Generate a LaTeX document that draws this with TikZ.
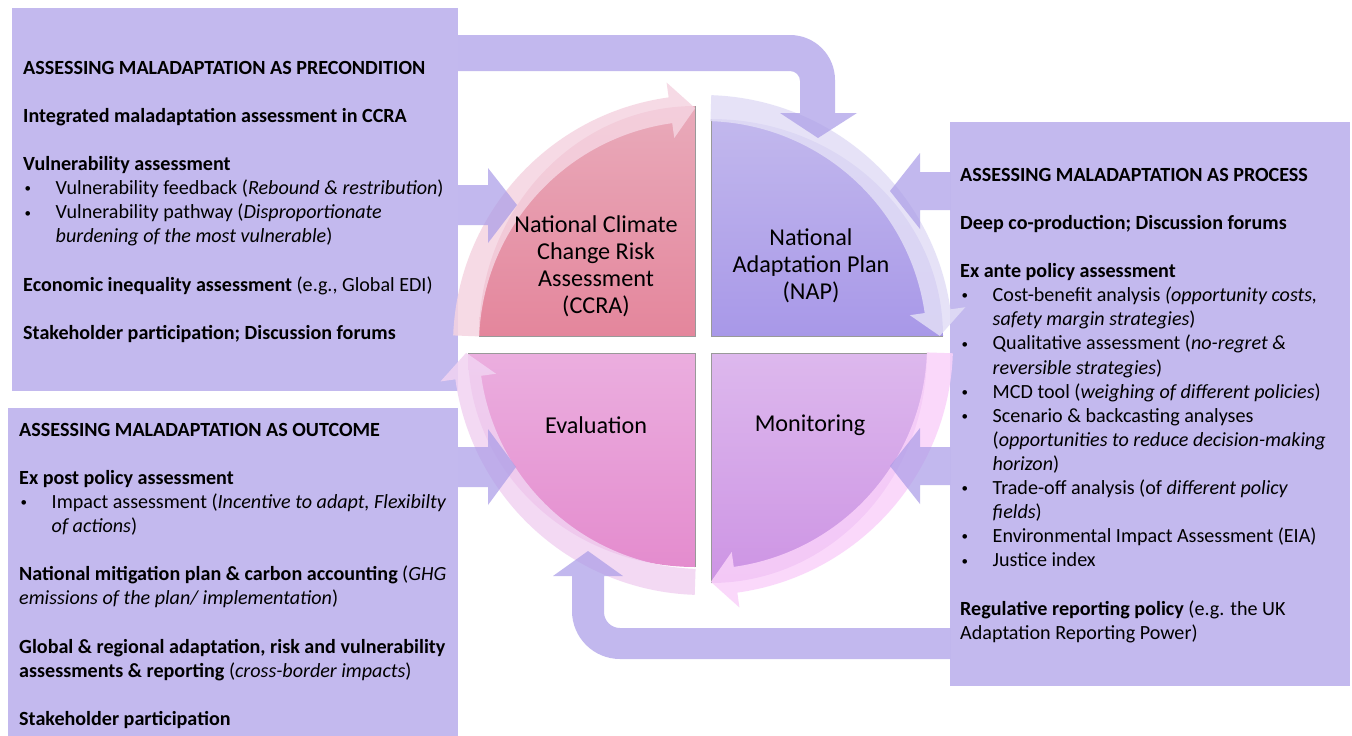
\documentclass[tikz,border=0pt]{standalone}
\usepackage{fontspec}
\setmainfont{Carlito}
\usetikzlibrary{calc}

\definecolor{boxlav}{RGB}{195,185,238}
\definecolor{arrlav}{RGB}{169,155,231}
\definecolor{ccraTop}{RGB}{233,170,186}
\definecolor{ccraBot}{RGB}{228,134,156}
\definecolor{napTop}{RGB}{194,184,237}
\definecolor{napBot}{RGB}{168,152,232}
\definecolor{evalTop}{RGB}{235,174,223}
\definecolor{evalBot}{RGB}{228,140,206}
\definecolor{monTop}{RGB}{221,184,237}
\definecolor{monBot}{RGB}{205,148,228}
\definecolor{cycA}{RGB}{245,212,225}
\definecolor{cycB}{RGB}{226,222,246}
\definecolor{cycC}{RGB}{250,210,250}
\definecolor{cycD}{RGB}{241,211,242}

% geometry of the ring of cycle arrows
\newcommand\rIn{224}
\newcommand\rOut{250}
\newcommand\rMid{237}
\newcommand\rHin{209}
\newcommand\rHout{265}
\newcommand\headAng{6}

% clockwise ring arrow: colour, tail angle, tip angle
\newcommand\cyclearrow[3]{%
  \fill[#1, opacity=.85]
    ($(C)+(#2:\rOut)$) arc[start angle=#2, end angle=#3+\headAng, radius=\rOut]
    -- ($(C)+(#3+\headAng:\rHout)$) -- ($(C)+(#3:\rMid)$)
    -- ($(C)+(#3+\headAng:\rHin)$) -- ($(C)+(#3+\headAng:\rIn)$)
    arc[start angle=#3+\headAng, end angle=#2, radius=\rIn] -- cycle;}

\newcommand\bul{\makebox[32.5pt][l]{\hspace{1.5pt}\raisebox{1.8pt}{\fontsize{13}{13}\selectfont\textbullet}}}
\newcommand\ind{\hspace*{32.5pt}}

\tikzset{
  panel/.style={fill=boxlav, draw=none, inner sep=0pt, anchor=north west},
  paneltext/.style={font=\fontsize{20.1}{24.1}\selectfont, align=left, inner sep=0pt, anchor=north west},
  quadlabel/.style={font=\fontsize{24.2}{27}\selectfont, align=center, inner sep=0pt},
  edge/.style={draw=black!40, line width=0.5pt},
  blockarrow/.style={fill=arrlav, opacity=.7}
}

\begin{document}
\begin{tikzpicture}[x=1pt,y=1pt]
\useasboundingbox (0,0) rectangle (1352,-736);
\fill[white] (0,0) rectangle (1352,-736);

% text panels
\node[panel, minimum width=446pt, minimum height=383pt] (pre) at (12,-8) {};
\node[panel, minimum width=450pt, minimum height=328pt] (out) at (8,-408) {};
\node[panel, minimum width=400pt, minimum height=564pt] (proc) at (950,-122) {};

% quadrants
\coordinate (C) at (703,-345);
\shade[top color=ccraTop, bottom color=ccraBot]
  (695,-336) -- (479,-336) arc[start angle=180, end angle=90, x radius=216, y radius=230] -- cycle;
\shade[top color=napTop, bottom color=napBot]
  (711,-336) -- (711,-119) arc[start angle=90, end angle=0, x radius=232, y radius=217] -- cycle;
\shade[top color=evalTop, bottom color=evalBot]
  (695,-353) -- (468,-353) arc[start angle=180, end angle=270, x radius=227, y radius=214] -- cycle;
\shade[top color=monTop, bottom color=monBot]
  (711,-353) -- (927,-353) arc[start angle=0, end angle=-90, x radius=216, y radius=230] -- cycle;
\draw[edge] (479,-336) -- (695,-336) -- (695,-106);
\draw[edge] (711,-119) -- (711,-336) -- (943,-336);
\draw[edge] (468,-353) -- (695,-353) -- (695,-567);
\draw[edge] (927,-353) -- (711,-353) -- (711,-583);

% ring of cycle arrows
\cyclearrow{cycA}{177.8}{91.9}
\cyclearrow{cycB}{88.1}{2.2}
\cyclearrow{cycC}{-1.9}{-88.1}
\cyclearrow{cycD}{-91.9}{-178.1}

% arrows from the panels into the quadrants
\fill[blockarrow] (458,-185) -- (488,-185) -- (488,-168) -- (517,-205) -- (488,-243) -- (488,-225) -- (458,-225) -- cycle;
\fill[blockarrow] (458,-447) -- (488,-447) -- (488,-429) -- (516,-467) -- (488,-505) -- (488,-487) -- (458,-487) -- cycle;
\fill[blockarrow] (950,-172) -- (920,-172) -- (920,-153) -- (890,-191) -- (920,-229) -- (920,-210) -- (950,-210) -- cycle;
\fill[blockarrow] (950,-447) -- (920,-447) -- (920,-428) -- (890,-466) -- (920,-504) -- (920,-485) -- (950,-485) -- cycle;

% feedback loops
\fill[blockarrow] (458,-35) -- (790,-35) arc[start angle=90, end angle=0, radius=45]
  -- (835,-113) -- (857,-113) -- (818,-138) -- (780,-113) -- (800,-113) -- (800,-81)
  arc[start angle=0, end angle=90, radius=10] -- (458,-71) -- cycle;
\fill[blockarrow] (950,-628) -- (620,-628) arc[start angle=270, end angle=180, radius=16]
  -- (604,-576) -- (623,-576) -- (588,-551) -- (553,-576) -- (572,-576) -- (572,-611)
  arc[start angle=180, end angle=270, radius=48] -- (950,-659) -- cycle;

% quadrant labels
\node[quadlabel] (ccra) at (596,-266) {National Climate\\Change Risk\\Assessment\\(CCRA)};
\node[quadlabel] (nap) at (811,-266) {National\\Adaptation Plan\\(NAP)};
\node[quadlabel] (eval) at (596,-425) {Evaluation};
\node[quadlabel] (mon) at (810,-425) {Monitoring};

% panel texts
\node[paneltext] (pretext) at (23,-57.2) {\strut\textbf{ASSESSING MALADAPTATION AS PRECONDITION}\\[24.1pt]
\textbf{Integrated maladaptation assessment in CCRA}\\[24.1pt]
\textbf{Vulnerability assessment}\\
\bul Vulnerability feedback (\textit{Rebound \& restribution})\\
\bul Vulnerability pathway (\textit{Disproportionate}\\
\ind\textit{burdening of the most vulnerable})\\[24.1pt]
\textbf{Economic inequality assessment} (e.g., Global EDI)\\[24.1pt]
\textbf{Stakeholder participation; Discussion forums}};

\node[paneltext] (outtext) at (19,-419.2) {\strut\textbf{ASSESSING MALADAPTATION AS OUTCOME}\\[24.1pt]
\textbf{Ex post policy assessment}\\
\bul Impact assessment (\textit{Incentive to adapt, Flexibilty}\\
\ind\textit{of actions})\\[24.1pt]
\textbf{National mitigation plan \& carbon accounting} (\textit{GHG}\\
\textit{emissions of the plan/ implementation})\\[24.1pt]
\textbf{Global \& regional adaptation, risk and vulnerability}\\
\textbf{assessments \& reporting} (\textit{cross-border impacts})\\[24.1pt]
\textbf{Stakeholder participation}};

\node[paneltext] (proctext) at (960,-164.2) {\strut\textbf{ASSESSING MALADAPTATION AS PROCESS}\\[24.1pt]
\textbf{Deep co-production; Discussion forums}\\[24.1pt]
\textbf{Ex ante policy assessment}\\
\bul Cost-benefit analysis \textit{(opportunity costs,}\\
\ind\textit{safety margin strategies})\\
\bul Qualitative assessment (\textit{no-regret \&}\\
\ind\textit{reversible strategies})\\
\bul MCD tool (\textit{weighing of different policies})\\
\bul Scenario \& backcasting analyses\\
\ind(\textit{opportunities to reduce decision-making}\\
\ind\textit{horizon})\\
\bul Trade-off analysis (of \textit{different policy}\\
\ind\textit{fields})\\
\bul Environmental Impact Assessment (EIA)\\
\bul Justice index\\[24.1pt]
\textbf{Regulative reporting policy} (e.g. the UK\\
Adaptation Reporting Power)};
\end{tikzpicture}
\end{document}
